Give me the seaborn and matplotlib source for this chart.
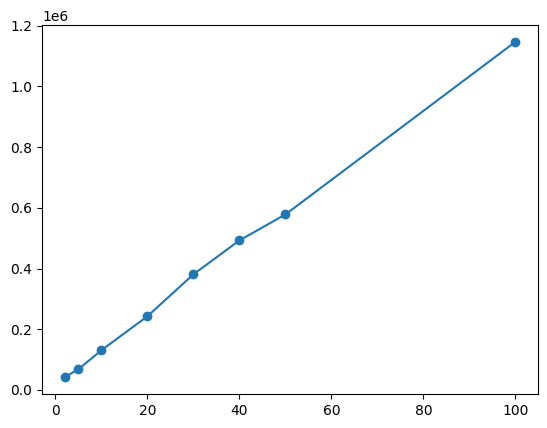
import pandas as pd
import matplotlib
matplotlib.use('Agg')
import matplotlib.pyplot as plt
import seaborn as sns

# Values
sizes = [2, 5, 10, 20, 30, 40, 50, 100]
values = [41800, 68000, 130600, 242500, 380700, 492500, 578000, 1147000]

data = pd.DataFrame({'size': sizes, 'value': values})

fig = plt.figure(figsize=(5.47, 4.28), dpi=100)
ax = fig.add_axes([42 / 547, 1 - 394 / 428, 496 / 547, 369 / 428])

sns.lineplot(data=data, x='size', y='value', marker='o', color='#1f77b4',
             markersize=6, markeredgecolor='#1f77b4', markeredgewidth=1.0, ax=ax)

ax.set_xlabel('')
ax.set_ylabel('')

fig.savefig('out.png', dpi=100)
